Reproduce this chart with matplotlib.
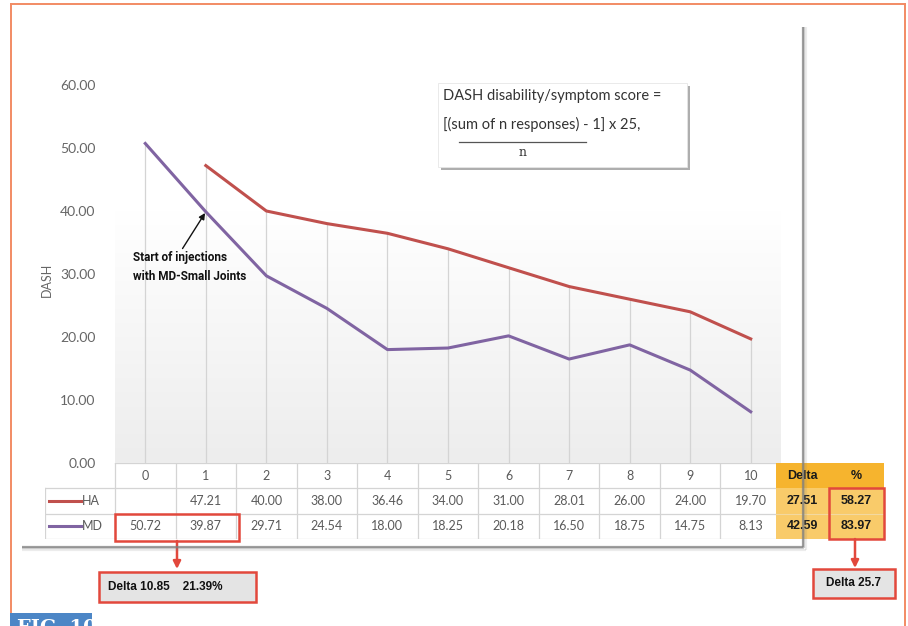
import numpy as np
import matplotlib
matplotlib.use("Agg")
import matplotlib.pyplot as plt
from matplotlib.patches import Rectangle, FancyArrowPatch

# ---- data -------------------------------------------------------------
visits = list(range(11))
ha_scores = [np.nan, 47.21, 40.00, 38.00, 36.46, 34.00, 31.00, 28.01, 26.00, 24.00, 19.70]
md_scores = [50.72, 39.87, 29.71, 24.54, 18.00, 18.25, 20.18, 16.50, 18.75, 14.75, 8.13]
series_names = ["HA", "MD"]
delta_values = [27.51, 42.59]
delta_percent = [58.27, 83.97]
y_ticks = [0, 10, 20, 30, 40, 50, 60]
early_delta_text = "Delta 10.85    21.39%"
final_delta_text = "Delta 25.7"

HA_COLOR = "#C0504D"
MD_COLOR = "#8064A2"
RED = "#E2483C"
GOLD_HEAD = "#F6B42E"
GOLD_CELL = "#F9CB6A"
GRID = "#D4D4D4"
TXT = "#5A5A5A"

W, H = 908, 626
fig = plt.figure(figsize=(W / 100, H / 100), dpi=100)
fig.patch.set_facecolor("white")


def fx(px):
    return px / W


def fy(py):
    return 1 - py / H


# ---- main line chart ---------------------------------------------------
ax_left, ax_right, ax_top, ax_bot = 115, 781, 85, 463
ax = fig.add_axes([fx(ax_left), fy(ax_bot), fx(ax_right) - fx(ax_left), fy(ax_top) - fy(ax_bot)])
ax.set_xlim(-0.5, 10.5)
ax.set_ylim(0, 60)
ax.set_facecolor("none")

# soft grey wash rising from the bottom of the plot area
grad = np.clip(np.linspace(0, 1.5, 256), 0, 1).reshape(-1, 1)
ax.imshow(grad, extent=(-0.5, 10.5, 0, 60), aspect="auto", origin="lower",
          cmap=matplotlib.colors.LinearSegmentedColormap.from_list("w", ["#EDEDED", "#FFFFFF"]),
          zorder=0)

ha = np.array(ha_scores, dtype=float)
md = np.array(md_scores, dtype=float)
tops = np.fmax(ha, md)
ax.vlines(visits, 0, tops, color=GRID, lw=0.9, zorder=1)
ax.plot(visits, ha, color=HA_COLOR, lw=2.2, zorder=3, solid_joinstyle="round")
ax.plot(visits, md, color=MD_COLOR, lw=2.2, zorder=3, solid_joinstyle="round")

ax.set_yticks(y_ticks)
ax.set_yticklabels([f"{v:.2f}" for v in y_ticks], fontsize=10, color="#666666", family="Lato")
ax.tick_params(axis="y", length=0, pad=14)
ax.set_xticks([])
for s in ax.spines.values():
    s.set_visible(False)

ax.annotate("Start of injections\nwith MD-Small Joints",
            xy=(1, md_scores[1]), xytext=(-0.2, 33.6),
            ha="left", va="top", fontsize=8.5, fontweight="bold",
            family=["Roboto", "DejaVu Sans"], color="#111111",
            linespacing=1.55,
            arrowprops=dict(arrowstyle="-|>", color="#111111", lw=1.0,
                            mutation_scale=9, shrinkA=0, shrinkB=1,
                            relpos=(0.42, 1.0)),
            zorder=5)

fig.text(fx(47), fy(280), "DASH", rotation=90, ha="center", va="center",
         fontsize=9, color="#666666", family="Lato")

# ---- data table --------------------------------------------------------
px_per_unit = (ax_right - ax_left) / 11.0


def tx(px):
    return (px - ax_left) / px_per_unit - 0.5


tab_top, tab_bot = 463, 539
tab_l, tab_r = 45, 884
tab = fig.add_axes([fx(tab_l), fy(tab_bot), fx(tab_r) - fx(tab_l), fy(tab_top) - fy(tab_bot)])
tab.set_xlim(tx(tab_l), tx(tab_r))
tab.set_ylim(3, 0)
tab.axis("off")

x_left = tx(tab_l)
x_gold = tx(776)
x_split = tx(829)
x_end = tx(tab_r)

tab.add_patch(Rectangle((-0.5, 0), x_gold + 0.5, 3, facecolor="white", edgecolor="none", zorder=0))
tab.add_patch(Rectangle((x_left, 1), -0.5 - x_left, 2, facecolor="white", edgecolor="none", zorder=0))
# horizontal rules
tab.plot([-0.5, x_gold], [0, 0], color=GRID, lw=0.9)
for yy in (1, 2, 3):
    tab.plot([x_left, x_gold], [yy, yy], color=GRID, lw=0.9)
# vertical rules
tab.plot([x_left, x_left], [1, 3], color=GRID, lw=0.9)
for i in range(11):
    tab.plot([i - 0.5, i - 0.5], [0, 3], color=GRID, lw=0.9)

# gold summary block
tab.add_patch(Rectangle((x_gold, 0), x_end - x_gold, 1, facecolor=GOLD_HEAD, edgecolor="none", zorder=2))
tab.add_patch(Rectangle((x_gold, 1), x_end - x_gold, 2, facecolor=GOLD_CELL, edgecolor="none", zorder=2))
tab.plot([x_split, x_split], [1, 3], color="#F3D9A0", lw=0.8, zorder=2.5)
tab.plot([x_gold, x_end], [2, 2], color="#F3D9A0", lw=0.8, zorder=2.5)

cell_font = dict(fontsize=9, color=TXT, family="Lato", ha="center", va="center")
for i in visits:
    tab.text(i, 0.5, str(i), **cell_font)
    if not np.isnan(ha[i]):
        tab.text(i, 1.5, f"{ha[i]:.2f}", **cell_font)
    tab.text(i, 2.5, f"{md[i]:.2f}", **cell_font)

bold_font = dict(fontsize=9, color="#1A1A1A", fontweight="bold",
                 family="Liberation Sans", ha="center", va="center", zorder=3)
tab.text((x_gold + x_split) / 2, 0.5, "Delta", **bold_font)
tab.text((x_split + x_end) / 2, 0.5, "%", **bold_font)
for r, (d, p) in enumerate(zip(delta_values, delta_percent)):
    tab.text((x_gold + x_split) / 2, 1.5 + r, f"{d:.2f}", **bold_font)
    tab.text((x_split + x_end) / 2, 1.5 + r, f"{p:.2f}", **bold_font)

# legend keys
for r, (name, col) in enumerate(zip(series_names, [HA_COLOR, MD_COLOR])):
    tab.plot([tx(49), tx(81)], [1.5 + r, 1.5 + r], color=col, lw=2.2)
    tab.text(tx(82), 1.5 + r, name, fontsize=9, color=TXT, family="Lato", ha="left", va="center")

# red outlines around highlighted cells
tab.add_patch(Rectangle((-0.5, 2.02), tx(239) + 0.5, 1.06, facecolor="none",
                        edgecolor=RED, lw=1.8, clip_on=False, zorder=6))
tab.add_patch(Rectangle((x_split, 1.0), x_end - x_split, 2.0, facecolor="none",
                        edgecolor=RED, lw=1.8, clip_on=False, zorder=6))

# ---- overlay: frame, shadows, formula, callouts ------------------------
ov = fig.add_axes([0, 0, 1, 1], zorder=10)
ov.set_xlim(0, W)
ov.set_ylim(H, 0)
ov.axis("off")
ov.patch.set_alpha(0)

# outer page frame
frame = "#F28B64"
ov.plot([11, 11], [4, 612], color=frame, lw=1.4)
ov.plot([11, 905], [4, 4], color=frame, lw=1.4)
ov.plot([905, 905], [4, 626], color=frame, lw=1.4)

# chart box shadow edges
for off, a in [(2.5, 0.15), (1.2, 0.35), (0, 0.75)]:
    ov.plot([803 + off, 803 + off], [27, 547 + off], color="#808080", lw=1.6, alpha=a,
            solid_capstyle="butt")
    ov.plot([22, 803 + off], [547 + off, 547 + off], color="#808080", lw=1.6, alpha=a,
            solid_capstyle="butt")

# formula box
ov.add_patch(Rectangle((441, 86), 249, 84, facecolor="#9A9A9A", edgecolor="none", alpha=0.8))
ov.add_patch(Rectangle((438, 83), 249, 84, facecolor="white", edgecolor="#E6E6E6", lw=0.6))
formula_font = dict(fontsize=10.5, color="#333333", family="Lato", ha="left", va="center")
ov.text(443, 96, "DASH disability/symptom score =", **formula_font)
ov.text(443, 124, "[(sum of n responses) - 1] x 25,", **formula_font)
ov.plot([459, 586], [142, 142], color="#555555", lw=0.9)
ov.text(523, 153, "n", fontsize=9, color="#333333", family="DejaVu Serif",
        ha="center", va="center")

# callout arrows and boxes
arrow_kw = dict(arrowstyle="-|>", color=RED, lw=1.8, mutation_scale=11, shrinkA=0, shrinkB=0)
ov.add_patch(FancyArrowPatch((177, 541), (177, 569), **arrow_kw))
ov.add_patch(FancyArrowPatch((855, 539), (855, 568), **arrow_kw))
ov.add_patch(Rectangle((99, 572), 157, 30, facecolor="#E4E4E4", edgecolor=RED, lw=1.8))
ov.text(108, 587, early_delta_text, fontsize=8.5, fontweight="bold",
        family="Liberation Sans", color="#111111", ha="left", va="center")
ov.add_patch(Rectangle((813, 569), 82, 29, facecolor="#E4E4E4", edgecolor=RED, lw=1.8))
ov.text(854, 583.5, final_delta_text, fontsize=8.5, fontweight="bold",
        family="Liberation Sans", color="#111111", ha="center", va="center")

# figure tag
ov.add_patch(Rectangle((10, 613), 82, 20, facecolor="#4C86C6", edgecolor="none"))
ov.text(17, 619, "FIG. 10", fontsize=14, fontweight="bold", family="DejaVu Serif",
        color="white", ha="left", va="top", clip_on=True)

fig.savefig("out.png", dpi=100, facecolor="white")
